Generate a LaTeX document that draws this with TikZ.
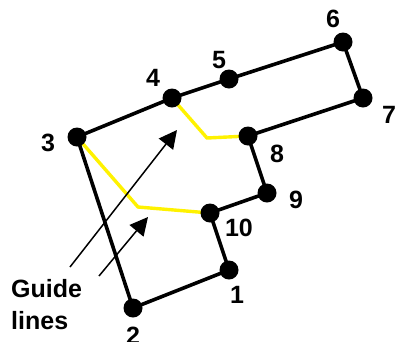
\documentclass[tikz,border=0pt]{standalone}
\usepackage{fontspec}
\setmainfont{Liberation Sans}
\usetikzlibrary{arrows.meta}

\begin{document}
\begin{tikzpicture}[x=1pt,y=-1pt,
  wire/.style={line width=3.6pt,line join=round},
  guide/.style={line width=3.4pt,yellow},
  pointer/.style={line width=1.5pt,-{Triangle[length=18pt,width=18pt]}},
  lbl/.style={font=\fontsize{25}{32}\selectfont\bfseries,inner sep=0pt}]
\useasboundingbox (0,0) rectangle (396,341);
\foreach \n/\x/\y in {1/229/270,2/133/308,3/77/137,4/172/98,5/229/79,
  6/343/42,7/363/98,8/248/136,9/267/193,10/210/213}
  \coordinate (p\n) at (\x,\y);
\coordinate (g1) at (207,138);
\coordinate (g2) at (138,207);
\draw[guide](p4)--(g1)--(p8)
(p3)--(g2)--(p10);
\draw[wire](p1)--(p2)--(p3)--(p4)--(p5)--(p6)--(p7)--(p8)--(p9)--(p10)--cycle;
\foreach \n in {1,...,10}
  \fill (p\n) circle (9.5);
\foreach \n/\x/\y in {1/237/295,2/133/336,3/48/143,4/153/78,5/219/60,
  6/333/19,7/389/115,8/277/154,9/296/200,10/239/228}
  \node[lbl] (l\n) at (\x,\y) {\n};
\node[lbl,anchor=west,align=left] (txt) at (11,305) {Guide\\lines};
\coordinate (t1) at (70,267);
\coordinate (h1) at (177,130);
\coordinate (t2) at (99,276);
\coordinate (h2) at (148,217);
\draw[pointer](t1)--(h1);
\draw[pointer](t2)--(h2);
\end{tikzpicture}
\end{document}
